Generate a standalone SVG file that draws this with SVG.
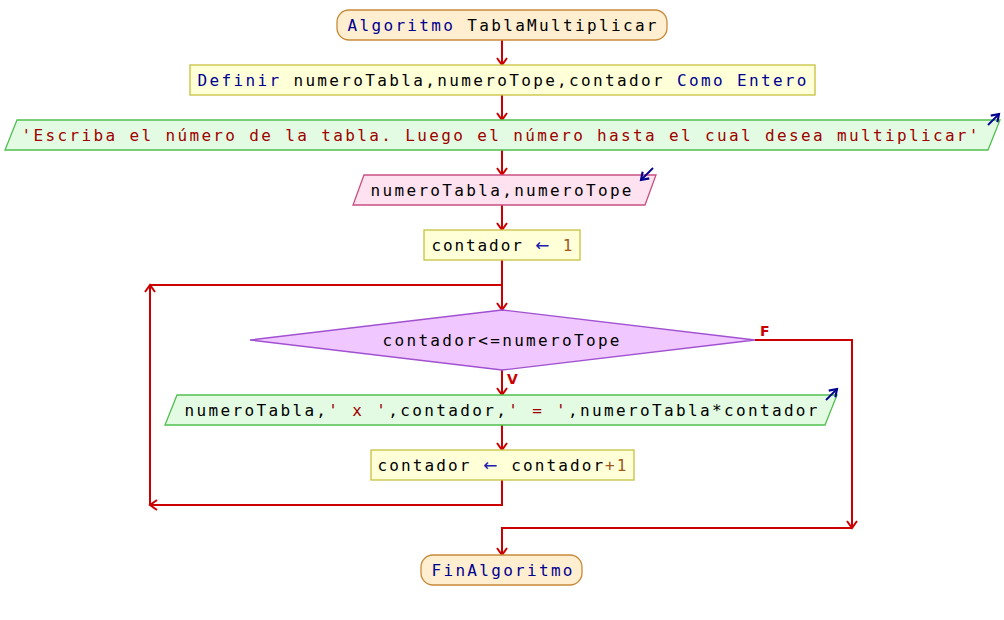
<svg xmlns="http://www.w3.org/2000/svg" width="1004" height="620" viewBox="0 0 1004 620">
<defs>
<marker id="ar" markerWidth="16" markerHeight="16" refX="0" refY="0" viewBox="-10 -8 12 16" orient="auto" markerUnits="userSpaceOnUse">
<path d="M-7,-5 L0,0 L-7,5" fill="none" stroke="#cc0000" stroke-width="2"/>
</marker>
<marker id="ab" markerWidth="14" markerHeight="14" refX="0" refY="0" viewBox="-8 -6 10 12" orient="auto" markerUnits="userSpaceOnUse">
<path d="M-6,-4 L0,0 L-6,4" fill="none" stroke="#000090" stroke-width="1.8"/>
</marker>
<style>
.t{font-family:"DejaVu Sans Mono","Liberation Mono",monospace;font-size:16px;fill:#000;}
.kw{fill:#000090;}
.ar{fill:#2020b0;font-family:"DejaVu Sans","Liberation Sans",sans-serif;font-size:17px;}
.st{fill:#a00000;}
.nu{fill:#a05a20;}
.term{fill:#ffefd0;stroke:#c88a3a;stroke-width:1.3;}
.proc{fill:#ffffd8;stroke:#c8c040;stroke-width:1.3;}
.out{fill:#e2fbe2;stroke:#50c050;stroke-width:1.3;}
.in{fill:#ffe2f0;stroke:#c85080;stroke-width:1.3;}
.dec{fill:#f0c8ff;stroke:#a050d0;stroke-width:1.3;}
.c{fill:none;stroke:#cc0000;stroke-width:2;}
.bl{fill:none;stroke:#000090;stroke-width:1.8;}
.lab{font-family:"DejaVu Sans","Liberation Sans",sans-serif;font-size:14px;font-weight:bold;fill:#cc0000;}
</style>
</defs>
<g id="connectors">
<path class="c" d="M502,40 V65" marker-end="url(#ar)"/>
<path class="c" d="M502,95 V120" marker-end="url(#ar)"/>
<path class="c" d="M502,150 V175" marker-end="url(#ar)"/>
<path class="c" d="M502,205 V230" marker-end="url(#ar)"/>
<path class="c" d="M502,260 V310" marker-end="url(#ar)"/>
<path class="c" d="M502,370 V395" marker-end="url(#ar)"/>
<path class="c" d="M502,425 V450" marker-end="url(#ar)"/>
<path class="c" d="M502,480 V505 H150" marker-end="url(#ar)"/>
<path class="c" d="M150,505 V285" marker-end="url(#ar)"/>
<path class="c" d="M150,285 H502"/>
<path class="c" d="M755,340 H852 V528" marker-end="url(#ar)"/>
<path class="c" d="M852,528 H502 V555" marker-end="url(#ar)"/>
<text class="lab" x="760" y="336">F</text>
<text class="lab" x="507" y="384">V</text>
</g>
<g id="start">
<rect class="term" x="337" y="10" width="330" height="30" rx="12"/>
<text class="t" x="502" y="31" text-anchor="middle" textLength="309" lengthAdjust="spacing"><tspan class="kw">Algoritmo</tspan> TablaMultiplicar</text>
</g>
<g id="define">
<rect class="proc" x="190" y="65" width="625" height="30"/>
<text class="t" x="502" y="86" text-anchor="middle" textLength="609" lengthAdjust="spacing"><tspan class="kw">Definir</tspan> numeroTabla,numeroTope,contador <tspan class="kw">Como Entero</tspan></text>
</g>
<g id="write1">
<polygon class="out" points="17,120 1000,120 988,150 5,150"/>
<text class="t st" x="500" y="141" text-anchor="middle" textLength="957" lengthAdjust="spacing">'Escriba el número de la tabla. Luego el número hasta el cual desea multiplicar'</text>
<path class="bl" d="M988,125 L999,114" marker-end="url(#ab)"/>
</g>
<g id="read">
<polygon class="in" points="364,175 656,175 645,205 353,205"/>
<text class="t" x="501" y="196" text-anchor="middle" textLength="261" lengthAdjust="spacing">numeroTabla,numeroTope</text>
<path class="bl" d="M653,168 L641,180" marker-end="url(#ab)"/>
</g>
<g id="init">
<rect class="proc" x="424" y="230" width="156" height="30"/>
<text class="t" x="502" y="251" text-anchor="middle" textLength="141" lengthAdjust="spacing">contador <tspan class="ar">←</tspan> <tspan class="nu">1</tspan></text>
</g>
<g id="cond">
<polygon class="dec" points="502,310 755,340 502,370 250,340"/>
<text class="t" x="501" y="346" text-anchor="middle" textLength="237" lengthAdjust="spacing">contador&lt;=numeroTope</text>
</g>
<g id="write2">
<polygon class="out" points="177,395 837,395 825,425 165,425"/>
<text class="t" x="501" y="416" text-anchor="middle" textLength="633" lengthAdjust="spacing">numeroTabla,<tspan class="st">' x '</tspan>,contador,<tspan class="st">' = '</tspan>,numeroTabla*contador</text>
<path class="bl" d="M826,400 L837,389" marker-end="url(#ab)"/>
</g>
<g id="incr">
<rect class="proc" x="371" y="450" width="263" height="30"/>
<text class="t" x="502" y="471" text-anchor="middle" textLength="249" lengthAdjust="spacing">contador <tspan class="ar">←</tspan> contador<tspan class="nu">+1</tspan></text>
</g>
<g id="end">
<rect class="term" x="421" y="555" width="161" height="30" rx="12"/>
<text class="t kw" x="502" y="576" text-anchor="middle" textLength="141" lengthAdjust="spacing">FinAlgoritmo</text>
</g>
</svg>
